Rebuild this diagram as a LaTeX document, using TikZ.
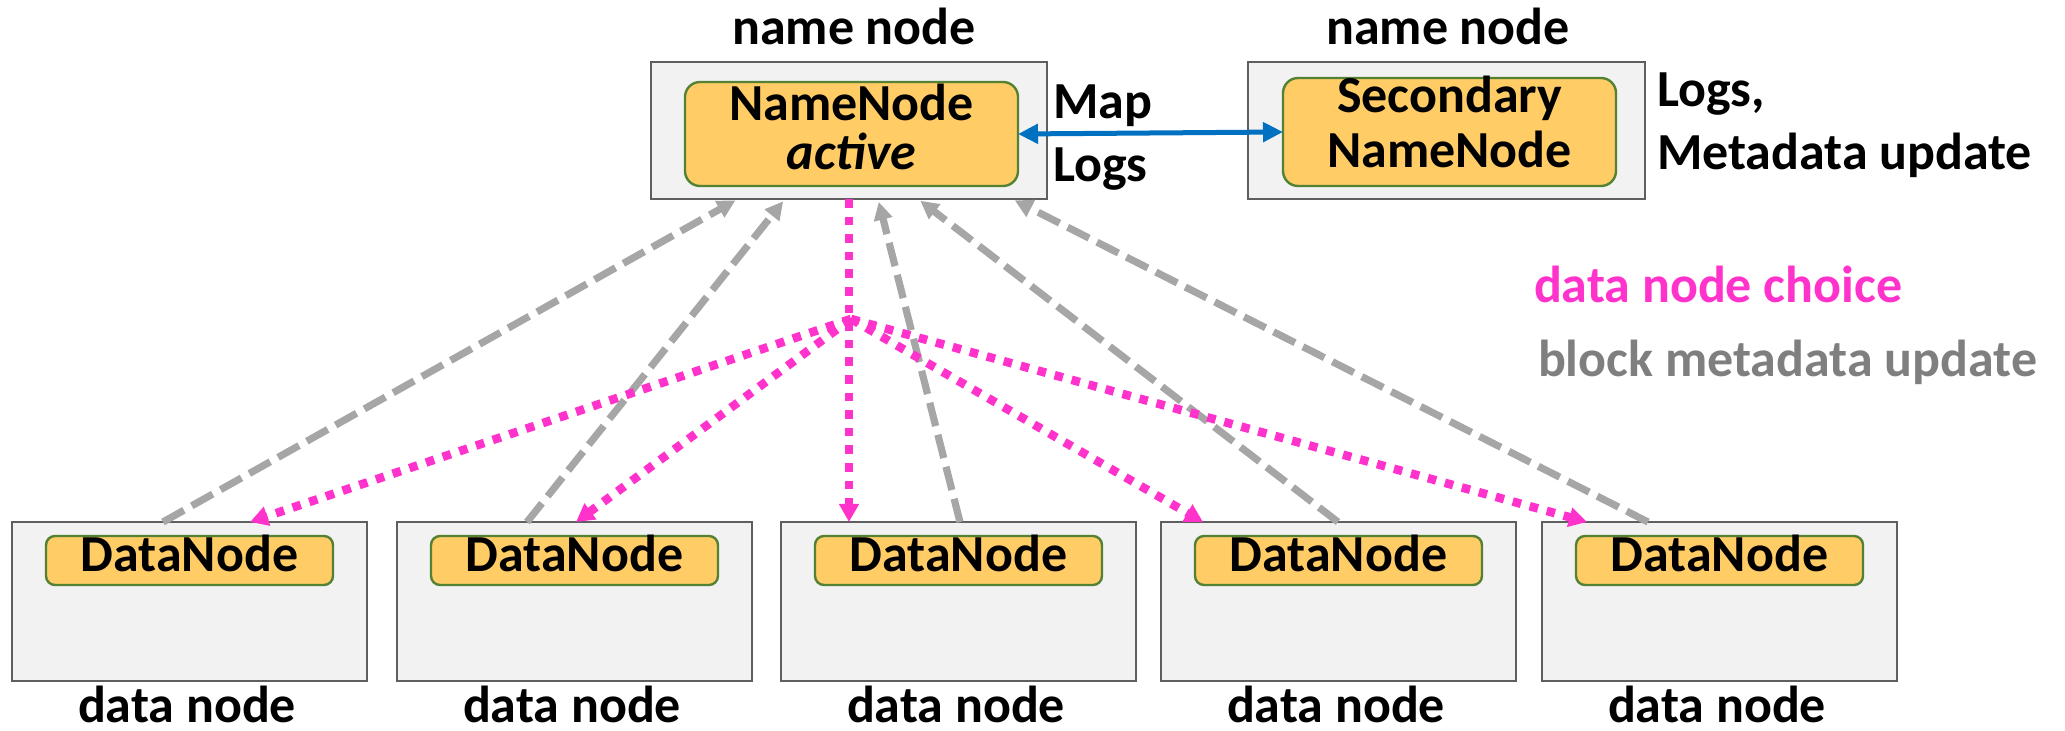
\documentclass[tikz,border=0pt]{standalone}
\usepackage{fontspec}
\setmainfont{Carlito}
\usetikzlibrary{arrows.meta}

\definecolor{boxfill}{HTML}{F2F2F2}
\definecolor{boxline}{HTML}{5F5F5F}
\definecolor{corefill}{HTML}{FFCC66}
\definecolor{coreline}{HTML}{548235}
\definecolor{linkblue}{HTML}{0070C0}
\definecolor{choice}{HTML}{FF33CC}
\definecolor{report}{HTML}{A6A6A6}
\definecolor{legendgray}{HTML}{7F7F7F}

\begin{document}
\begin{tikzpicture}[x=0.5pt,y=-0.5pt,
  host/.style={draw=boxline, fill=boxfill, line width=1.3pt, inner sep=0pt, outer sep=0pt},
  core/.style={draw=coreline, fill=corefill, line width=1.2pt, inner sep=0pt, outer sep=0pt},
  txt/.style={font=\fontsize{26}{26}\selectfont\bfseries, inner sep=0pt, outer sep=0pt},
  txtit/.style={txt, font=\fontsize{26}{26}\selectfont\bfseries\itshape},
  bluelink/.style={draw=linkblue, line width=2.5pt, {Triangle[length=10pt,width=9.5pt]}-{Triangle[length=10pt,width=9.5pt]}},
  pick/.style={draw=choice, line width=4.3pt, dash pattern=on 4.3pt off 4.5pt, -{Triangle[length=9pt,width=9.5pt]}},
  blockupd/.style={draw=report, line width=3.6pt, dash pattern=on 12pt off 4.5pt, -{Triangle[length=9pt,width=9pt]}, shorten >=1.5pt}]

\useasboundingbox (0,0) rectangle (2065,731);

% name node (active)
\node[txt, anchor=base] (nnlabel) at (854,45) {name node};
\node[host, minimum width=198pt, minimum height=68.5pt] (nnhost) at (849,130.5) {};
\node[core, rounded corners=7.5pt, minimum width=166.5pt, minimum height=52pt] (nn) at (851.5,134) {};
\node[txt, anchor=base] (nnname) at (851.5,121) {NameNode};
\node[txtit, anchor=base] (nnstate) at (851.5,170) {active};

% secondary name node
\node[txt, anchor=base] (snnlabel) at (1448,45) {name node};
\node[host, minimum width=198.5pt, minimum height=68.5pt] (snnhost) at (1446.5,130.5) {};
\node[core, rounded corners=7.5pt, minimum width=166.5pt, minimum height=54pt] (snn) at (1449.5,132) {};
\node[txt, anchor=base] (snnname1) at (1449.5,113) {Secondary};
\node[txt, anchor=base] (snnname2) at (1449.5,168) {NameNode};

% exchange between the two name nodes
\draw[bluelink] (nn.east) -- (snn.west);
\node[txt, anchor=base west] (map) at (1053,119) {Map};
\node[txt, anchor=base west] (logs) at (1053,182) {Logs};
\node[txt, anchor=base west] (slogs) at (1657,107) {Logs,};
\node[txt, anchor=base west] (smeta) at (1657,170) {Metadata update};

% legend
\node[txt, anchor=base west, text=choice] (legpick) at (1534,303) {data node choice};
\node[txt, anchor=base west, text=legendgray] (legupd) at (1538,377) {block metadata update};

% data nodes
\foreach \i/\l in {1/12, 2/397, 3/781, 4/1161, 5/1542} {
  \node[host, minimum width=177.5pt, minimum height=79.5pt] (dn\i) at ({\l+177.5},601.5) {};
  \node[core, rounded corners=4.5pt, minimum width=143.5pt, minimum height=24.5pt] (dc\i) at ({\l+177.5},560.5) {};
  \node[txt, anchor=base] (dt\i) at ({\l+177.5},571) {DataNode};
  \node[txt, anchor=base] (dl\i) at ({\l+175},722) {data node};
}

% block metadata updates sent up to the name node
\draw[blockupd] ([xshift=75.5pt]dn1.north west) -- ([xshift=43.5pt]nnhost.south west);
\draw[blockupd] ([xshift=65pt]dn2.north west) -- ([xshift=67pt]nnhost.south west);
\draw[blockupd] ([xshift=89.5pt]dn3.north west) -- ([xshift=113.5pt]nnhost.south west);
\draw[blockupd] ([xshift=88.5pt]dn4.north west) -- ([xshift=133.5pt]nnhost.south west);
\draw[blockupd] ([xshift=53pt]dn5.north west) -- ([xshift=180.5pt]nnhost.south west);

% data node choice fanning out from the name node
\coordinate (hub) at (851,319);
\draw[pick] (nnhost.south) -- (nnhost.south |- dn3.north);
\draw[pick] (hub) -- ([xshift=119pt]dn1.north west);
\draw[pick] (hub) -- ([xshift=89.5pt]dn2.north west);
\draw[pick] (hub) -- ([xshift=21pt]dn4.north west);
\draw[pick] (hub) -- ([xshift=22.5pt]dn5.north west);

\end{tikzpicture}
\end{document}
